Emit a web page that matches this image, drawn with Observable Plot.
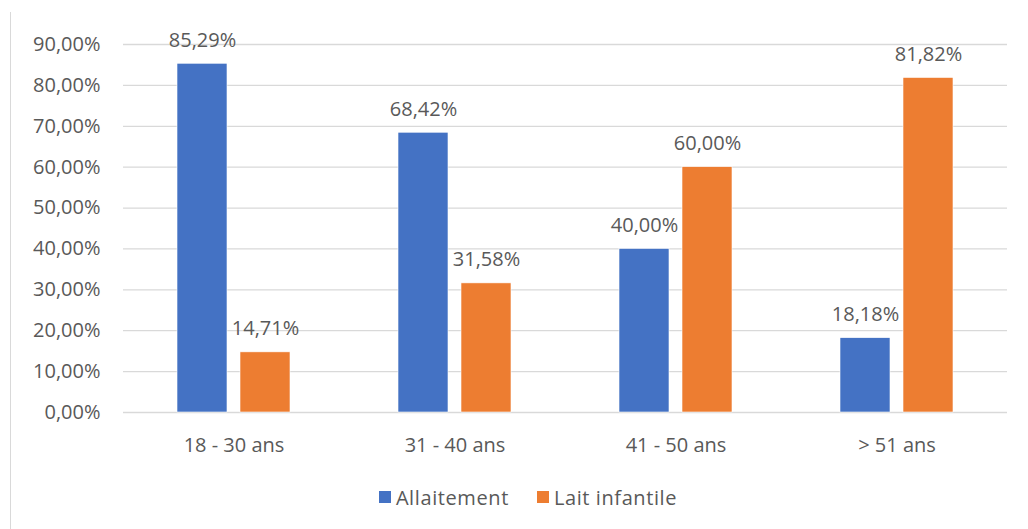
<!DOCTYPE html>
<html>
<head>
<meta charset="utf-8">
<script src="https://cdn.jsdelivr.net/npm/d3@7"></script>
<script src="https://cdn.jsdelivr.net/npm/@observablehq/plot@0.6"></script>
<style>
  html, body { margin: 0; padding: 0; background: #fff; }
  #wrap { position: relative; width: 1028px; height: 529px; overflow: hidden; font-family: "Open Sans", sans-serif; background: #fff; }
  #chart { position: absolute; left: 0; top: 0; }
  #frame { position: absolute; left: 10px; top: 12px; width: 1px; height: 530px; background: #d9d9d9; z-index: 2; }
  #legend { position: absolute; left: 28px; top: 482px; width: 1000px; height: 30px; display: flex; justify-content: center; align-items: center; gap: 28px; font-size: 20px; letter-spacing: 0.6px; color: #595959; z-index: 2; }
  #legend span.item { display: inline-flex; align-items: center; gap: 5px; }
  #legend span.sw { display: inline-block; width: 12px; height: 12px; }
</style>
</head>
<body>
<div id="wrap">
  <div id="chart"></div>
  <div id="frame"></div>
  <div id="legend"></div>
</div>
<script>
const categories = ["18 - 30 ans", "31 - 40 ans", "41 - 50 ans", "> 51 ans"];
const series = ["Allaitement", "Lait infantile"];
const allaitement = [85.29, 68.42, 40.00, 18.18];
const laitInfantile = [14.71, 31.58, 60.00, 81.82];
const yTicks = [0, 10, 20, 30, 40, 50, 60, 70, 80, 90];
const colors = ["#4472C4", "#ED7D31"];

const data = [];
categories.forEach((c, i) => {
  data.push({category: c, series: series[0], value: allaitement[i]});
  data.push({category: c, series: series[1], value: laitInfantile[i]});
});

const fmt = v => v.toFixed(2).replace(".", ",") + "%";
const textColor = "#595959";

const plot = Plot.plot({
  width: 1028,
  height: 470,
  marginLeft: 121,
  marginRight: 20,
  marginTop: 44,
  marginBottom: 58,
  style: {fontFamily: "Open Sans, sans-serif", fontSize: "20px", color: textColor, background: "transparent"},
  fx: {domain: categories, padding: 0, label: null},
  x: {domain: series, paddingInner: 0.206, paddingOuter: 0.84, axis: null},
  y: {domain: [0, 90], label: null},
  color: {domain: series, range: colors},
  marks: [
    Plot.ruleY(yTicks, {stroke: "#d9d9d9", strokeWidth: 1.3}),
    Plot.axisY({ticks: yTicks, tickSize: 0, tickPadding: 23, tickFormat: fmt, fontSize: 20, fill: textColor, label: null}),
    Plot.axisFx({anchor: "bottom", tickSize: 0, tickPadding: 25, fontSize: 20, fill: textColor, label: null}),
    Plot.barY(data, {fx: "category", x: "series", y: "value", fill: "series", stroke: "white", strokeWidth: 0.6}),
    Plot.text(data, {fx: "category", x: "series", y: "value", text: d => fmt(d.value), lineAnchor: "bottom", dy: -17, fontSize: 20, fill: textColor})
  ]
});
document.getElementById("chart").appendChild(plot);

const legend = document.getElementById("legend");
series.forEach((s, i) => {
  const item = document.createElement("span");
  item.className = "item";
  const sw = document.createElement("span");
  sw.className = "sw";
  sw.style.background = colors[i];
  item.appendChild(sw);
  item.appendChild(document.createTextNode(s));
  legend.appendChild(item);
});
</script>
</body>
</html>
